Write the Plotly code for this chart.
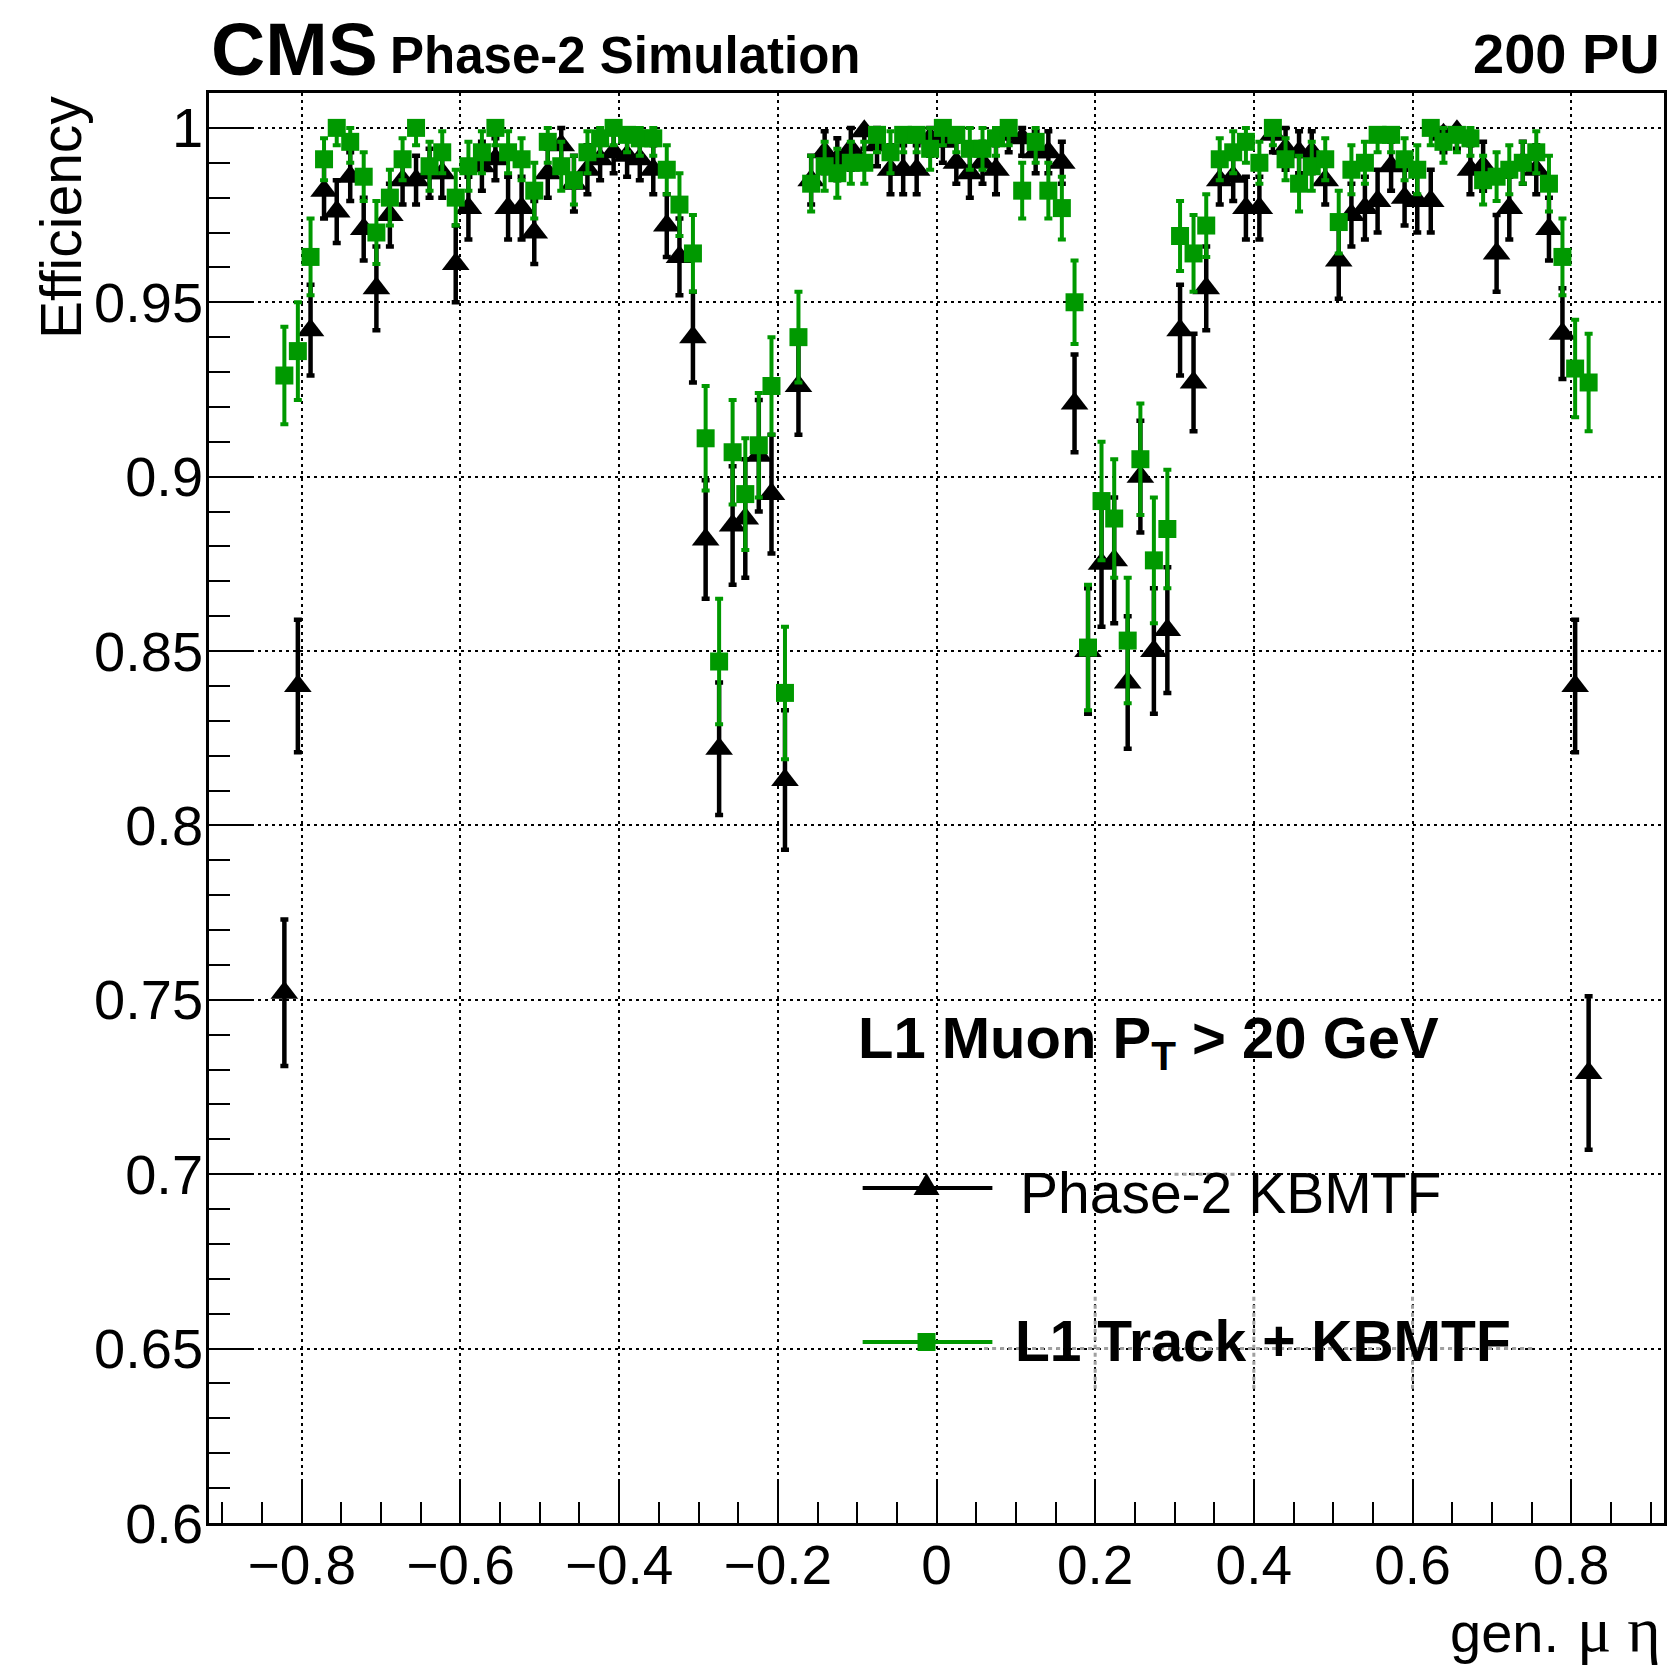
import plotly.graph_objects as go

# ---------------- data ----------------
eta = [-0.822, -0.805, -0.789, -0.772, -0.756, -0.739, -0.722, -0.706, -0.689, -0.673,
       -0.656, -0.639, -0.623, -0.606, -0.590, -0.573, -0.556, -0.540, -0.523, -0.507,
       -0.490, -0.473, -0.457, -0.440, -0.424, -0.407, -0.390, -0.374, -0.357, -0.340,
       -0.324, -0.307, -0.291, -0.274, -0.257, -0.241, -0.224, -0.208, -0.191, -0.174,
       -0.158, -0.141, -0.125, -0.108, -0.091, -0.075, -0.058, -0.042, -0.025, -0.008,
       0.008, 0.025, 0.042, 0.058, 0.075, 0.091, 0.108, 0.125, 0.141, 0.158,
       0.174, 0.191, 0.208, 0.224, 0.241, 0.257, 0.274, 0.291, 0.307, 0.324,
       0.340, 0.357, 0.374, 0.390, 0.407, 0.424, 0.440, 0.457, 0.473, 0.490,
       0.507, 0.523, 0.540, 0.556, 0.573, 0.590, 0.606, 0.623, 0.639, 0.656,
       0.673, 0.689, 0.706, 0.722, 0.739, 0.756, 0.772, 0.789, 0.805, 0.822]

eff_kbmtf = [0.752, 0.840, 0.942, 0.982, 0.976, 0.986, 0.971, 0.954, 0.975, 0.985,
             0.985, 0.987, 0.987, 0.961, 0.977, 0.989, 0.991, 0.977, 0.977, 0.970,
             0.987, 0.995, 0.984, 0.988, 0.991, 0.993, 0.992, 0.991, 0.988, 0.972,
             0.963, 0.940, 0.882, 0.822, 0.886, 0.888, 0.906, 0.895, 0.813, 0.926,
             0.985, 0.993, 0.991, 0.994, 0.999, 0.995, 0.988, 0.988, 0.988, 0.997,
             0.996, 0.990, 0.987, 0.990, 0.988, 0.998, 0.997, 0.993, 0.993, 0.990,
             0.921, 0.850, 0.875, 0.876, 0.841, 0.900, 0.850, 0.856, 0.942, 0.927,
             0.954, 0.985, 0.986, 0.977, 0.977, 0.998, 0.994, 0.993, 0.993, 0.985,
             0.962, 0.975, 0.977, 0.979, 0.989, 0.980, 0.979, 0.979, 0.998, 0.999,
             0.988, 0.989, 0.964, 0.977, 0.990, 0.988, 0.971, 0.941, 0.840, 0.729]

err_kbmtf = [0.021, 0.019, 0.013, 0.008, 0.009, 0.007, 0.009, 0.012, 0.009, 0.007,
             0.007, 0.007, 0.007, 0.011, 0.009, 0.007, 0.006, 0.009, 0.009, 0.009,
             0.007, 0.006, 0.008, 0.007, 0.006, 0.006, 0.006, 0.006, 0.007, 0.009,
             0.011, 0.013, 0.017, 0.019, 0.017, 0.017, 0.016, 0.017, 0.020, 0.014,
             0.007, 0.006, 0.006, 0.006, 0.005, 0.006, 0.007, 0.007, 0.007, 0.005,
             0.006, 0.006, 0.007, 0.006, 0.007, 0.005, 0.005, 0.006, 0.006, 0.006,
             0.014, 0.018, 0.018, 0.018, 0.019, 0.016, 0.018, 0.018, 0.013, 0.014,
             0.012, 0.007, 0.007, 0.009, 0.009, 0.005, 0.006, 0.006, 0.006, 0.007,
             0.011, 0.009, 0.009, 0.009, 0.007, 0.008, 0.009, 0.009, 0.005, 0.005,
             0.007, 0.007, 0.011, 0.009, 0.006, 0.007, 0.009, 0.013, 0.019, 0.022]

eff_trk = [0.929, 0.936, 0.963, 0.991, 1.000, 0.996, 0.986, 0.970, 0.980, 0.991,
           1.000, 0.989, 0.993, 0.980, 0.989, 0.993, 1.000, 0.993, 0.991, 0.982,
           0.996, 0.989, 0.985, 0.993, 0.997, 1.000, 0.998, 0.997, 0.997, 0.988,
           0.978, 0.964, 0.911, 0.847, 0.907, 0.895, 0.909, 0.926, 0.838, 0.940,
           0.984, 0.989, 0.987, 0.990, 0.990, 0.998, 0.993, 0.998, 0.998, 0.994,
           1.000, 0.998, 0.994, 0.994, 0.997, 1.000, 0.982, 0.996, 0.982, 0.977,
           0.950, 0.851, 0.893, 0.888, 0.853, 0.905, 0.876, 0.885, 0.969, 0.964,
           0.972, 0.991, 0.993, 0.996, 0.990, 1.000, 0.991, 0.984, 0.989, 0.991,
           0.973, 0.988, 0.990, 0.998, 0.998, 0.991, 0.988, 1.000, 0.996, 0.998,
           0.997, 0.985, 0.986, 0.988, 0.990, 0.993, 0.984, 0.963, 0.931, 0.927]

err_trk = [0.014, 0.014, 0.011, 0.006, 0.005, 0.006, 0.007, 0.009, 0.008, 0.006,
           0.005, 0.007, 0.006, 0.008, 0.007, 0.006, 0.005, 0.006, 0.006, 0.008,
           0.006, 0.007, 0.007, 0.006, 0.005, 0.005, 0.005, 0.005, 0.005, 0.007,
           0.009, 0.011, 0.015, 0.018, 0.015, 0.016, 0.015, 0.014, 0.019, 0.013,
           0.008, 0.007, 0.007, 0.006, 0.006, 0.005, 0.006, 0.005, 0.005, 0.006,
           0.005, 0.005, 0.006, 0.006, 0.005, 0.005, 0.008, 0.006, 0.008, 0.009,
           0.012, 0.018, 0.017, 0.017, 0.018, 0.016, 0.018, 0.017, 0.010, 0.011,
           0.009, 0.006, 0.006, 0.006, 0.006, 0.005, 0.006, 0.008, 0.007, 0.006,
           0.009, 0.007, 0.006, 0.005, 0.005, 0.006, 0.007, 0.005, 0.006, 0.005,
           0.005, 0.007, 0.007, 0.007, 0.006, 0.006, 0.008, 0.011, 0.014, 0.014]

x_ticks = [-0.8, -0.6, -0.4, -0.2, 0.0, 0.2, 0.4, 0.6, 0.8]

# ---------------- styling ----------------
BLACK = "#000000"
GREEN = "#009900"
GREY = "#a0a0a0"
FONT = "Liberation Sans, Arial, Helvetica, sans-serif"
SERIF = "Liberation Serif, DejaVu Serif, serif"

# page has an 8 px body margin: figure is placed at (8, 8)
OFF = 8
W, H = 1676 - OFF, 1669 - OFF
# plot frame in page pixels
L, R, T, B = 209, 1667, 93, 1523
PW, PH = R - L, B - T


def px(X):
    return (X - L) / PW


def py(Y):
    return (B - Y) / PH


def upper(v, e):
    return [min(ei, max(0.0, 1.0 - vi)) for vi, ei in zip(v, e)]


fig = go.Figure()

fig.add_trace(go.Scatter(
    x=eta, y=eff_kbmtf, mode="markers", name="Phase-2 KBMTF",
    marker=dict(symbol="triangle-up", size=24, color=BLACK, line=dict(width=0)),
    error_y=dict(type="data", symmetric=False, array=upper(eff_kbmtf, err_kbmtf),
                 arrayminus=err_kbmtf, color=BLACK, thickness=4.5, width=4),
    showlegend=False,
))
fig.add_trace(go.Scatter(
    x=eta, y=eff_trk, mode="markers", name="L1 Track + KBMTF",
    marker=dict(symbol="square", size=18, color=GREEN, line=dict(width=0)),
    error_y=dict(type="data", symmetric=False, array=upper(eff_trk, err_trk),
                 arrayminus=err_trk, color=GREEN, thickness=4, width=4),
    showlegend=False,
))

axis_common = dict(
    showline=True, linecolor=BLACK, linewidth=2.5, mirror=True,
    ticks="inside", tickcolor=BLACK, tickwidth=2, ticklen=42,
    showgrid=True, gridcolor=BLACK, gridwidth=2, griddash="3px,4px",
    zeroline=False, ticklabelstandoff=-8,
)

fig.update_xaxes(
    range=[-0.917, 0.917], tickmode="array", tickvals=x_ticks,
    tickfont=dict(family=FONT, size=55, color=BLACK),
    minor=dict(dtick=0.05, tick0=0, ticks="inside", ticklen=21, tickwidth=2,
               tickcolor=BLACK, showgrid=False),
    **axis_common,
)
fig.update_yaxes(
    range=[0.6, 1.01], tick0=0.6, dtick=0.05,
    tickfont=dict(family=FONT, size=56, color=BLACK),
    minor=dict(dtick=0.01, tick0=0.6, ticks="inside", ticklen=21, tickwidth=2,
               tickcolor=BLACK, showgrid=False),
    **axis_common,
)

ann = []
ann.append(dict(text="<b>CMS</b>", x=px(209.5), y=py(74.8 - 0.3465 * 75), xref="paper", yref="paper",
                xanchor="left", yanchor="middle", showarrow=False,
                font=dict(family=FONT, size=75, color=BLACK)))
ann.append(dict(text="<b>Phase-2 Simulation</b>", x=px(388), y=py(72.7 - 0.3465 * 51), xref="paper", yref="paper",
                xanchor="left", yanchor="middle", showarrow=False,
                font=dict(family=FONT, size=51, color=BLACK)))
ann.append(dict(text="<b>200 PU</b>", x=px(1665), y=py(72.7 - 0.3465 * 56), xref="paper", yref="paper",
                xanchor="right", yanchor="middle", showarrow=False,
                font=dict(family=FONT, size=56, color=BLACK)))
ann.append(dict(text="Efficiency", x=px(80 - 0.3465 * 57), y=py(94), xref="paper", yref="paper",
                xanchor="center", yanchor="top", textangle=-90, showarrow=False,
                font=dict(family=FONT, size=57, color=BLACK)))
# x-axis title: "gen." in sans, Greek letters in a serif face (as ROOT's Symbol font)
ann.append(dict(text="gen.", x=px(1564), y=py(1651.5 - 0.3465 * 56), xref="paper", yref="paper",
                xanchor="right", yanchor="middle", showarrow=False,
                font=dict(family=FONT, size=56, color=BLACK)))
ann.append(dict(text="\u03bc \u03b7", x=px(1666), y=py(1651.5 - 0.3375 * 64), xref="paper", yref="paper",
                xanchor="right", yanchor="middle", showarrow=False,
                font=dict(family=SERIF, size=64, color=BLACK)))
ann.append(dict(text="<b>L1 Muon P<sub>T</sub> > 20 GeV</b>", x=px(857), y=py(1055 - 0.2285 * 58),
                xref="paper", yref="paper", xanchor="left", yanchor="middle", showarrow=False,
                font=dict(family=FONT, size=58, color=BLACK)))
ann.append(dict(text="Phase-2 KBMTF", x=px(1020), y=py(1213 - 0.3465 * 57),
                xref="paper", yref="paper", xanchor="left", yanchor="middle", showarrow=False,
                font=dict(family=FONT, size=57, color=BLACK)))
ann.append(dict(text="<b>L1 Track + KBMTF</b>", x=px(1015), y=py(1360.7 - 0.3465 * 57),
                xref="paper", yref="paper", xanchor="left", yanchor="middle", showarrow=False,
                font=dict(family=FONT, size=57, color=BLACK)))

shapes = []
# grey dotted remnants around the legend box
grey_line = dict(color=GREY, width=3, dash="4px,4px")
shapes.append(dict(type="line", xref="x", yref="y", x0=0.06, x1=0.755, y0=0.65, y1=0.65,
                   line=grey_line, layer="above"))
for gx in (0.2, 0.4, 0.6):
    shapes.append(dict(type="line", xref="x", yref="y", x0=gx, x1=gx, y0=0.6385, y1=0.665,
                       line=grey_line, layer="above"))
shapes.append(dict(type="line", xref="x", yref="y", x0=0.30, x1=0.38, y0=0.70, y1=0.70,
                   line=grey_line, layer="above"))
# legend samples
shapes.append(dict(type="line", xref="paper", yref="paper", x0=px(864), x1=px(994),
                   y0=py(1188), y1=py(1188), line=dict(color=BLACK, width=4)))
shapes.append(dict(type="path", xref="paper", yref="paper", xsizemode="pixel", ysizemode="pixel",
                   xanchor=px(928), yanchor=py(1188),
                   path="M-13,-7 L13,-7 L0,15 Z", fillcolor=BLACK, line=dict(width=0)))
shapes.append(dict(type="line", xref="paper", yref="paper", x0=px(864), x1=px(994),
                   y0=py(1342), y1=py(1342), line=dict(color=GREEN, width=4)))
shapes.append(dict(type="rect", xref="paper", yref="paper", xsizemode="pixel", ysizemode="pixel",
                   xanchor=px(928), yanchor=py(1342), x0=-9, x1=9, y0=-9, y1=9,
                   fillcolor=GREEN, line=dict(width=0)))

fig.update_layout(
    width=W, height=H, autosize=False,
    margin=dict(l=L - OFF, r=W - (R - OFF), t=T - OFF, b=H - (B - OFF), pad=0),
    paper_bgcolor="white", plot_bgcolor="white",
    annotations=ann, shapes=shapes,
    font=dict(family=FONT, color=BLACK),
)

fig.write_html("out.html")
